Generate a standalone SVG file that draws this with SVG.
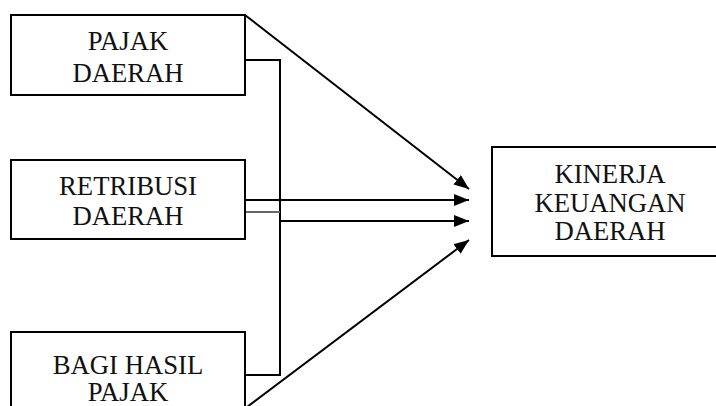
<svg xmlns="http://www.w3.org/2000/svg" width="716" height="406" viewBox="0 0 716 406">
<style>
.box{fill:#fff;stroke:#000;stroke-width:2}
.t{font-family:"Liberation Serif","Times New Roman",serif;font-size:26.7px;fill:#111;text-anchor:middle}
.ln{fill:none;stroke:#000;stroke-width:2}
.arr{marker-end:url(#ah)}
</style>
<defs>
<marker id="ah" markerUnits="userSpaceOnUse" markerWidth="16" markerHeight="14" refX="15" refY="6" orient="auto">
<path d="M0,0 L15,6 L0,12 Z" fill="#000"/>
</marker>
</defs>
<rect width="716" height="406" fill="#fff"/>
<g id="connectors">
<path class="ln arr" d="M245,15 L469,189"/>
<path class="ln" d="M245,60 L280,60 L280,375 L245,375"/>
<path class="ln arr" d="M245,200 L469,200"/>
<path d="M245,212 L280,212" fill="none" stroke="#666" stroke-width="2"/>
<path class="ln arr" d="M280,221 L469,221"/>
<path class="ln arr" d="M247,407 L469,240"/>
</g>
<g id="pajak-daerah">
<rect class="box" x="11" y="15" width="234" height="80"/>
<text class="t" x="128" y="50">PAJAK</text>
<text class="t" x="128" y="82">DAERAH</text>
</g>
<g id="retribusi-daerah">
<rect class="box" x="11" y="160" width="234" height="79"/>
<text class="t" x="128" y="195">RETRIBUSI</text>
<text class="t" x="128" y="225">DAERAH</text>
</g>
<g id="bagi-hasil-pajak">
<rect class="box" x="11" y="332" width="234" height="90"/>
<text class="t" x="128" y="374">BAGI HASIL</text>
<text class="t" x="128" y="401">PAJAK</text>
</g>
<g id="kinerja-keuangan-daerah">
<rect class="box" x="492" y="147" width="240" height="109"/>
<text class="t" x="610" y="183">KINERJA</text>
<text class="t" x="610" y="212">KEUANGAN</text>
<text class="t" x="610" y="240">DAERAH</text>
</g>
</svg>
